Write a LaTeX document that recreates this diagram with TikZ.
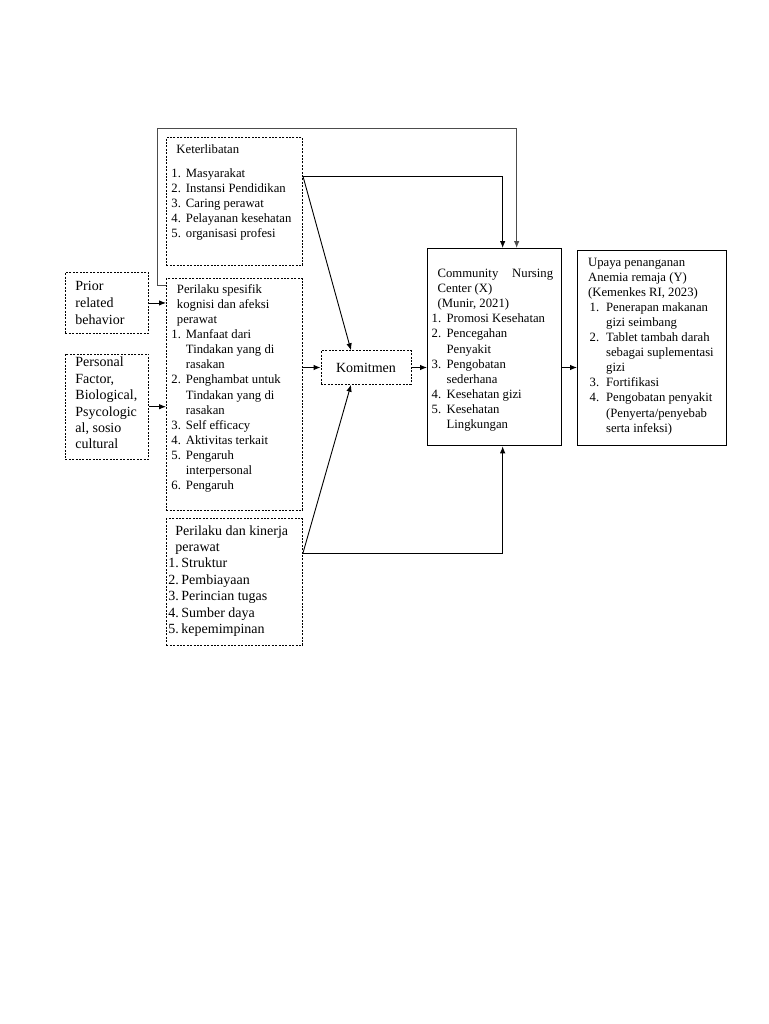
\documentclass[tikz,border=0pt]{standalone}
\usepackage{fontspec}
\setmainfont{Liberation Serif}
\usepackage{tikz}
\usetikzlibrary{positioning}
\usetikzlibrary{arrows.meta}

\newcommand{\smalltxt}{\fontsize{12.7}{15.1}\selectfont}
\newcommand{\bigtxt}{\fontsize{14}{16.4}\selectfont}
\newcommand{\li}[3][14.5pt]{\par\noindent\hangindent=#1\hangafter=1\makebox[#1][l]{#2}#3}
\newcommand{\boxtxt}[3]{\parbox[c][#2][t]{#1}{#3}}

\tikzset{
  dbox/.style={draw, rectangle, dash pattern=on 2pt off 1.4pt, line width=0.9pt, inner ysep=0pt, anchor=north west},
  sbox/.style={draw, rectangle, line width=1.3pt, inner ysep=0pt, anchor=north west},
  >={Latex[length=7pt,width=5.5pt]}
}

\begin{document}
\begin{tikzpicture}[x=1pt, y=-1pt, line width=0.9pt]
    \useasboundingbox (0,0) rectangle (768,1024);

    % Nodes
    \node[dbox, inner xsep=5pt] (ket) at (166,137) {\boxtxt{126pt}{128pt}{\smalltxt
        \vspace*{6.8pt}\hspace*{5pt}Keterlibatan\par\vspace{8.9pt}
        \li{1.}{Masyarakat}
        \li{2.}{Instansi Pendidikan}
        \li{3.}{Caring perawat}
        \li{4.}{Pelayanan kesehatan}
        \li{5.}{organisasi profesi}}};
    \node[dbox, inner xsep=5pt] (spes) at (166,278.3) {\boxtxt{126pt}{231.7pt}{\smalltxt
        \vspace*{5.7pt}\hspace*{5.5pt}Perilaku spesifik\\\hspace*{5.5pt}kognisi dan afeksi\\\hspace*{5.5pt}perawat\par
        \li{1.}{Manfaat dari\\Tindakan yang di\\rasakan}
        \li{2.}{Penghambat untuk\\Tindakan yang di\\rasakan}
        \li{3.}{Self efficacy}
        \li{4.}{Aktivitas terkait}
        \li{5.}{Pengaruh\\interpersonal}
        \li{6.}{Pengaruh}}};
    \node[dbox, inner xsep=2pt] (kin) at (166,518.3) {\boxtxt{132pt}{126.7pt}{\bigtxt
        \vspace*{6.6pt}\hspace*{7pt}Perilaku dan kinerja\\\hspace*{7pt}perawat\par
        \li[13pt]{1.}{Struktur}
        \li[13pt]{2.}{Pembiayaan}
        \li[13pt]{3.}{Perincian tugas}
        \li[13pt]{4.}{Sumber daya}
        \li[13pt]{5.}{kepemimpinan}}};
    \node[dbox, inner xsep=10pt] (prior) at (65,272) {\boxtxt{63pt}{61pt}{\fontsize{14}{17}\selectfont
        \vspace*{8.4pt}Prior\\related\\behavior}};
    \node[dbox, inner xsep=10pt] (pers) at (65,353.5) {\boxtxt{63pt}{105.5pt}{\bigtxt
        \vspace*{3.3pt}Personal\\Factor,\\Biological,\\Psycologic\\al, sosio\\cultural}};
    \node[dbox, anchor=center, minimum width=90pt, minimum height=33.5pt] (kom) at (366,367.5) {\bigtxt Komitmen};
    \node[sbox, inner xsep=4pt] (cnc) at (427,248) {\boxtxt{126pt}{197pt}{\smalltxt
        \vspace*{20.5pt}\hspace*{6pt}\makebox[115.5pt][s]{Community\hfill Nursing}\\
        \hspace*{6pt}Center (X)\\\hspace*{6pt}(Munir, 2021)\par
        \li[15pt]{1.}{Promosi Kesehatan}
        \li[15pt]{2.}{Pencegahan\\Penyakit}
        \li[15pt]{3.}{Pengobatan\\sederhana}
        \li[15pt]{4.}{Kesehatan gizi}
        \li[15pt]{5.}{Kesehatan\\Lingkungan}}};
    \node[sbox, inner xsep=10.5pt] (upaya) at (577,250) {\boxtxt{128pt}{195pt}{\smalltxt
        \vspace*{7.1pt}Upaya penanganan\\Anemia remaja (Y)\\(Kemenkes RI, 2023)\par
        \li[18pt]{\hspace*{1.5pt}1.}{Penerapan makanan\\gizi seimbang}
        \li[18pt]{\hspace*{1.5pt}2.}{Tablet tambah darah\\sebagai suplementasi\\gizi}
        \li[18pt]{\hspace*{1.5pt}3.}{Fortifikasi}
        \li[18pt]{\hspace*{1.5pt}4.}{Pengobatan penyakit\\(Penyerta/penyebab\\serta infeksi)}}};

    \coordinate (ketout) at ([yshift=-39pt]ket.north east);
    \coordinate (kinout) at ([yshift=-35pt]kin.north east);
    \coordinate (loopin) at ([yshift=-7.5pt]spes.north west);
    \coordinate (loopcorner) at (157,128);

    % Edges
    \draw[->] (prior.east) -- (prior.east -| spes.west);
    \draw[->] (pers.east) -- (pers.east -| spes.west);
    \draw[->] (kom.west -| spes.east) -- (kom.west);
    \draw[->] (kom.east) -- (kom.east -| cnc.west);
    \draw[->] (kom.east -| cnc.east) -- (kom.east -| upaya.west);
    \draw[->] (ketout) -| ([xshift=8pt]cnc.north);
    \draw[->] (ketout) -- ([xshift=-15pt]kom.north);
    \draw[->] (kinout) -| ([xshift=8pt]cnc.south);
    \draw[->] (kinout) -- ([xshift=-15pt]kom.south);
    \draw[->, black!70] (loopin) -| (loopcorner) -| ([xshift=22pt]cnc.north);
\end{tikzpicture}
\end{document}
